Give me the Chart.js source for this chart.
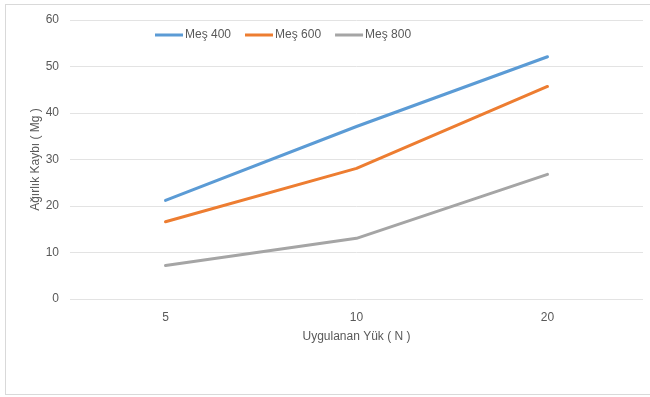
<!DOCTYPE html>
<html>
<head>
<meta charset="utf-8">
<script src="https://cdn.jsdelivr.net/npm/chart.js@4/dist/chart.umd.min.js"></script>
<style>
  html, body { margin: 0; padding: 0; background: #fff; }
  #wrap { width: 650px; height: 397px; position: relative; }
</style>
</head>
<body>
<div id="wrap"><canvas id="c" width="650" height="397"></canvas></div>
<script>
// Applied load (N) and weight loss (mg) for three mesh sizes
const loads = ['5', '10', '20'];
const mesh400 = [21.2, 37.1, 52.1];
const mesh600 = [16.6, 28.1, 45.7];
const mesh800 = [7.2, 13.05, 26.8];
const seriesNames = ['Meş 400', 'Meş 600', 'Meş 800'];
const seriesColors = ['#5b9bd5', '#ed7d31', '#a5a5a5'];

const FONT = "'Liberation Sans', Arial, sans-serif";
const TXT = '#595959';

// Frame around the whole chart
const framePlugin = {
  id: 'frame',
  beforeDraw(chart) {
    const ctx = chart.ctx;
    ctx.save();
    ctx.fillStyle = '#fff';
    ctx.fillRect(0, 0, chart.width, chart.height);
    ctx.strokeStyle = '#d9d9d9';
    ctx.lineWidth = 1;
    ctx.strokeRect(5.5, 4.5, 660, 390);
    ctx.restore();
  }
};

// Legend drawn inside the plot, near its top-left
const insideLegend = {
  id: 'insideLegend',
  afterDraw(chart) {
    const ctx = chart.ctx;
    ctx.save();
    ctx.font = '12px ' + FONT;
    ctx.textBaseline = 'middle';
    let x = 155;
    const y = 35;
    chart.data.datasets.forEach(ds => {
      ctx.strokeStyle = ds.borderColor;
      ctx.lineWidth = 3;
      ctx.beginPath();
      ctx.moveTo(x, y);
      ctx.lineTo(x + 28, y);
      ctx.stroke();
      ctx.fillStyle = TXT;
      ctx.fillText(ds.label, x + 30, y);
      x += 30 + ctx.measureText(ds.label).width + 14;
    });
    ctx.restore();
  }
};

const seriesValues = [mesh400, mesh600, mesh800];

new Chart(document.getElementById('c'), {
  type: 'line',
  data: {
    labels: loads,
    datasets: seriesValues.map((vals, i) => ({
      label: seriesNames[i],
      data: vals,
      borderColor: seriesColors[i],
      backgroundColor: seriesColors[i],
      borderWidth: 3,
      pointRadius: 0,
      tension: 0,
      borderCapStyle: 'round',
      borderJoinStyle: 'round',
      fill: false
    }))
  },
  options: {
    responsive: false,
    animation: false,
    layout: { padding: { left: 5, right: 7, top: 20, bottom: 0 } },
    plugins: {
      legend: { display: false },
      tooltip: { enabled: false }
    },
    scales: {
      x: {
        offset: true,
        grid: { display: false },
        border: { display: false },
        ticks: { color: TXT, font: { family: FONT, size: 12 }, padding: 3 },
        title: {
          display: true,
          text: 'Uygulanan Yük ( N )',
          color: TXT,
          font: { family: FONT, size: 12 },
          padding: { top: 4, bottom: 53 }
        },
        afterFit(scale) { scale.height = 98; }
      },
      y: {
        min: 0,
        max: 60,
        ticks: { stepSize: 10, color: TXT, font: { family: FONT, size: 12 }, padding: 11 },
        grid: { color: '#e3e3e3', drawTicks: false },
        border: { display: false },
        title: {
          display: true,
          text: 'Ağırlık Kaybı ( Mg )',
          color: TXT,
          font: { family: FONT, size: 12 },
          padding: { top: 23, bottom: 2 }
        },
        afterFit(scale) { scale.width = 65; }
      }
    }
  },
  plugins: [framePlugin, insideLegend]
});
</script>
</body>
</html>
